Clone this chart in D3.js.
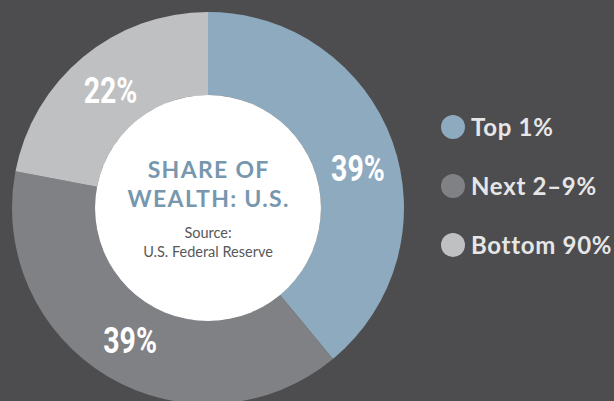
<!DOCTYPE html>
<html>
<head>
<meta charset="utf-8">
<script src="https://cdn.jsdelivr.net/npm/d3@7/dist/d3.min.js"></script>
<style>
  html, body { margin: 0; padding: 0; background: #4d4d4f; }
  svg { display: block; }
</style>
</head>
<body>
<svg id="chart" width="614" height="401"></svg>
<script>
const categories = ["Top 1%", "Next 2\u20139%", "Bottom 90%"];
const shares = [39, 39, 22];
const colors = ["#8eaabf", "#808185", "#bfc0c2"];
const titleLines = ["SHARE OF", "WEALTH: U.S."];
const sourceLines = ["Source:", "U.S. Federal Reserve"];

const W = 614, H = 401;
const cx = 208, cy = 208;
const outerR = 196, innerR = 113, labelR = 153;
// small label nudges (px) to match the reference placement
const labelNudge = { "Top 1%": [6, 12] };

const svg = d3.select("#chart");
svg.append("rect").attr("width", W).attr("height", H).attr("fill", "#4d4d4f");

const data = categories.map((c, i) => ({ cat: c, value: shares[i], color: colors[i] }));
const pie = d3.pie().value(d => d.value).sort(null);
const arcs = pie(data);
const arc = d3.arc().innerRadius(innerR).outerRadius(outerR);
const labelArc = d3.arc().innerRadius(labelR).outerRadius(labelR);

const g = svg.append("g").attr("transform", `translate(${cx},${cy})`);
g.selectAll("path.slice").data(arcs).enter().append("path")
  .attr("class", "slice")
  .attr("d", arc)
  .attr("fill", d => d.data.color);

g.append("circle").attr("r", innerR).attr("fill", "#ffffff");

g.selectAll("text.pct").data(arcs).enter().append("text")
  .attr("class", "pct")
  .attr("transform", d => {
    const [x, y] = labelArc.centroid(d);
    const n = labelNudge[d.data.cat] || [0, 0];
    return `translate(${x + n[0]},${y + n[1]}) scale(0.78,1)`;
  })
  .attr("text-anchor", "middle")
  .attr("dy", "0.36em")
  .attr("fill", "#ffffff")
  .style("font-family", "Roboto, sans-serif")
  .style("font-weight", "bold")
  .style("font-size", "36.5px")
  .text(d => d.data.value + "%");

// Center text
g.selectAll("text.title").data(titleLines).enter().append("text")
  .attr("class", "title")
  .attr("x", 0.65)
  .attr("y", (d, i) => -30 + i * 29)
  .attr("text-anchor", "middle")
  .attr("fill", "#7797ae")
  .style("font-family", "Lato, 'Open Sans', sans-serif")
  .style("font-weight", "bold")
  .style("font-size", "23px")
  .style("letter-spacing", "1.3px")
  .text(d => d);

g.selectAll("text.src").data(sourceLines).enter().append("text")
  .attr("class", "src")
  .attr("x", 0)
  .attr("y", (d, i) => 30 + i * 19)
  .attr("text-anchor", "middle")
  .attr("fill", "#58585a")
  .style("font-family", "Lato, 'Open Sans', sans-serif")
  .style("font-weight", "400")
  .style("font-size", "14.5px")
  .text(d => d);

// Legend
const legendY = d3.scalePoint().domain(categories).range([127, 245]);
const leg = svg.append("g");
const item = leg.selectAll("g.item").data(data).enter().append("g")
  .attr("class", "item")
  .attr("transform", d => `translate(453,${legendY(d.cat)})`);
item.append("circle").attr("r", 12).attr("fill", d => d.color);
item.append("text")
  .attr("x", 18)
  .attr("dy", "0.36em")
  .attr("fill", "#e6e6e7")
  .style("font-family", "Lato, 'Open Sans', sans-serif")
  .style("font-weight", "bold")
  .style("font-size", "24px")
  .style("letter-spacing", "0.7px")
  .text(d => d.cat);
</script>
</body>
</html>
